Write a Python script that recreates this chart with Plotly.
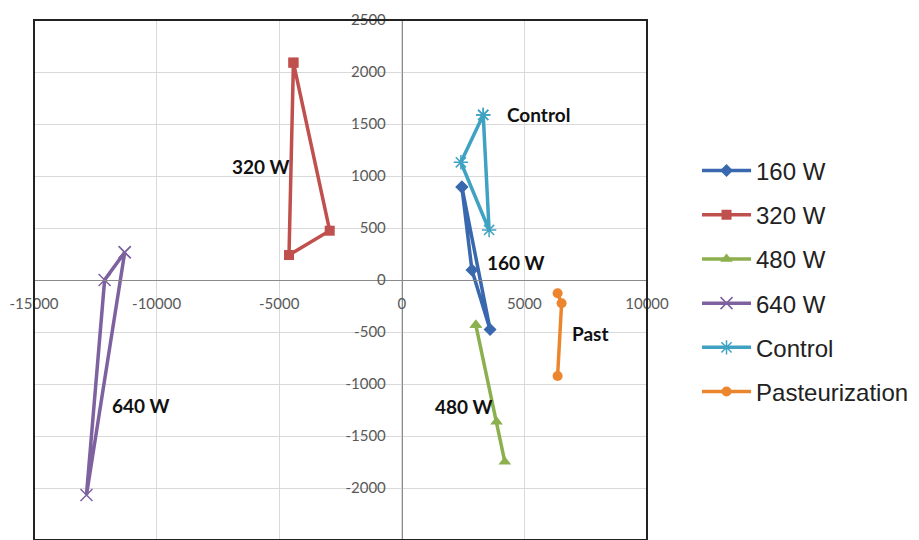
import plotly.graph_objects as go

# Series data (closed triangles: first point repeated)
w160_x = [2450, 2860, 3600, 2450]
w160_y = [895, 96, -475, 895]
w320_x = [-4420, -4600, -2940, -4420]
w320_y = [2090, 240, 474, 2090]
w480_x = [3020, 3865, 4200, 3020]
w480_y = [-433, -1362, -1747, -433]
w640_x = [-11300, -12120, -12860, -11300]
w640_y = [266, 0, -2067, 266]
ctrl_x = [3320, 2410, 3560, 3320]
ctrl_y = [1587, 1132, 481, 1587]
past_x = [6354, 6517, 6354]
past_y = [-128, -224, -923]

names = ["160 W", "320 W", "480 W", "640 W", "Control", "Pasteurization"]
colors = ["#3A68AE", "#C0504D", "#8DB04E", "#7E62A0", "#3FA2C2", "#EB862F"]

x_ticks = [-15000, -10000, -5000, 0, 5000, 10000]
x_ticktext = ["-15000", "-10000", "-5000", "0", "5000", "10000"]
y_ticks = [-2500, -2000, -1500, -1000, -500, 0, 500, 1000, 1500, 2000, 2500]
y_ticktext = ["-2500", "-2000", "-1500", "-1000", "-500", "0", "500", "1000", "1500", "2000", "2500"]

label_text = ["320 W", "Control", "160 W", "Past", "480 W", "640 W"]
label_x = [-5755, 5590, 4650, 7710, 2530, -10650]
label_y = [1087, 1587, 173, -510, -1221, -1202]

fig = go.Figure()

series = [
    (w160_x, w160_y, dict(symbol="diamond", size=10)),
    (w320_x, w320_y, dict(symbol="square", size=10)),
    (w480_x, w480_y, dict(symbol="triangle-up", size=11)),
    (w640_x, w640_y, dict(symbol="x-thin-open", size=12)),
    (ctrl_x, ctrl_y, dict(symbol="asterisk-open", size=12)),
    (past_x, past_y, dict(symbol="circle", size=10)),
]
for i, (xs, ys, mk) in enumerate(series):
    m = dict(mk)
    m["color"] = colors[i]
    if "open" in mk["symbol"]:
        m["line"] = dict(color=colors[i], width=1.5)
    fig.add_trace(go.Scatter(
        x=xs, y=ys, mode="lines+markers", name=names[i],
        line=dict(color=colors[i], width=3.5),
        marker=m, legendgroup=names[i],
    ))

for t, x, y in zip(label_text, label_x, label_y):
    fig.add_annotation(x=x, y=y, text="<b>%s</b>" % t, showarrow=False,
                       font=dict(family="Lato", size=19, color="#111111"),
                       xanchor="center", yanchor="middle")

fig.add_shape(type="rect", xref="paper", yref="paper", x0=0, x1=1, y0=0, y1=1,
              line=dict(color="#222222", width=2), layer="above")

fig.update_layout(
    template="none",
    width=919, height=540,
    margin=dict(l=26, r=280, t=12, b=8),
    paper_bgcolor="white", plot_bgcolor="white",
    showlegend=True,
    legend=dict(x=1.0816, y=0.753, xanchor="left", yanchor="top",
                font=dict(family="Liberation Sans", size=24, color="#222222"),
                tracegroupgap=10, itemwidth=49, bgcolor="rgba(0,0,0,0)"),
    xaxis=dict(range=[-15000, 10000], tickvals=x_ticks, ticktext=x_ticktext,
               anchor="free", position=0.5, showline=True, linecolor="#8a8a8a", linewidth=1,
               zeroline=False, showgrid=True, gridcolor="#D9D9D9", gridwidth=1,
               ticks="outside", ticklen=10, tickcolor="rgba(0,0,0,0)",
               tickfont=dict(family="Lato", size=15, color="#595959"), automargin=False),
    yaxis=dict(range=[-2500, 2500], tickvals=y_ticks, ticktext=y_ticktext,
               anchor="free", position=0.6, showline=True, linecolor="#8a8a8a", linewidth=1,
               zeroline=False, showgrid=True, gridcolor="#D9D9D9", gridwidth=1,
               ticks="outside", ticklen=13, tickcolor="rgba(0,0,0,0)",
               tickfont=dict(family="Lato", size=15, color="#595959"), automargin=False),
)

fig.write_html("out.html")
